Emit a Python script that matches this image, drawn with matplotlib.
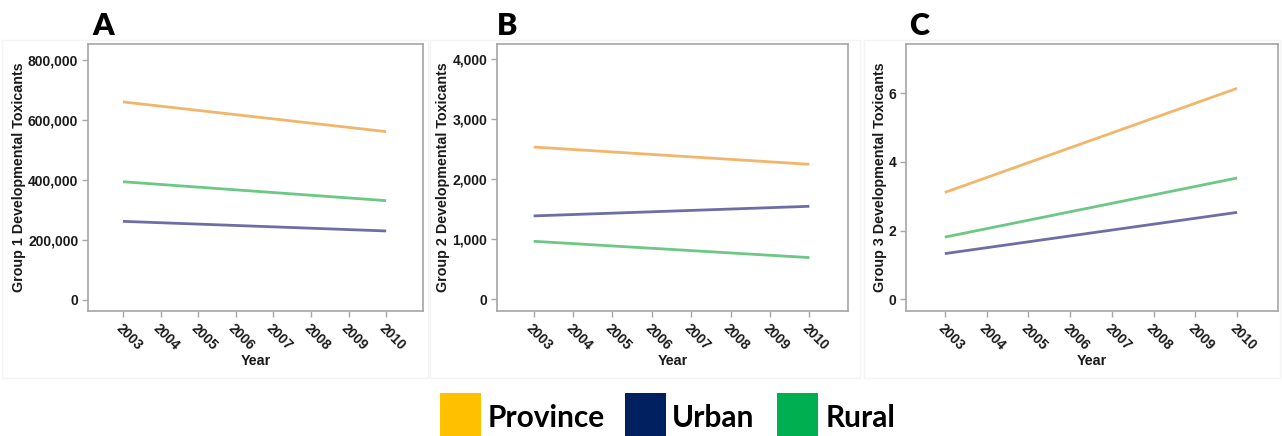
import matplotlib
matplotlib.use("Agg")
import matplotlib.pyplot as plt
from matplotlib.patches import Rectangle
from matplotlib.ticker import FuncFormatter

# Trend lines per region, start (2003) and end (2010) values
years = [2003, 2010]
all_years = list(range(2003, 2011))
series_names = ["Province", "Urban", "Rural"]

group1_province = [660000, 561000]
group1_urban = [262000, 230000]
group1_rural = [394000, 331000]

group2_province = [2538, 2250]
group2_urban = [1390, 1550]
group2_rural = [967, 695]

group3_province = [3.11, 6.14]
group3_urban = [1.33, 2.53]
group3_rural = [1.81, 3.53]

line_colors = {"Province": "#F2B66B", "Urban": "#6E6EA6", "Rural": "#6CC884"}
legend_colors = {"Province": "#FFC000", "Urban": "#002060", "Rural": "#00B050"}

W, H = 1282, 436
fig = plt.figure(figsize=(W / 100, H / 100), dpi=100)
fig.patch.set_facecolor("white")

plt.rcParams["font.family"] = ["Liberation Sans", "DejaVu Sans"]
TICK_FS = 10
LABEL_FS = 10.3


def px_axes(left, right, top, bottom):
    return fig.add_axes([left / W, (H - bottom) / H, (right - left) / W, (bottom - top) / H])


panels = [
    dict(box=(88, 423, 44, 311), letter="A", letter_x=92, ylab_x=19,
         ylabel="Group 1 Developmental Toxicants",
         data=[group1_province, group1_urban, group1_rural],
         ylim=(-36700, 853000), yticks=[0, 200000, 400000, 600000, 800000]),
    dict(box=(497, 848, 44, 311), letter="B", letter_x=497, ylab_x=443,
         ylabel="Group 2 Developmental Toxicants",
         data=[group2_province, group2_urban, group2_rural],
         ylim=(-195, 4255), yticks=[0, 1000, 2000, 3000, 4000]),
    dict(box=(906, 1278, 44, 311), letter="C", letter_x=909, ylab_x=880,
         ylabel="Group 3 Developmental Toxicants",
         data=[group3_province, group3_urban, group3_rural],
         ylim=(-0.34, 7.43), yticks=[0, 2, 4, 6]),
]

# faint panel frames
for x0, x1 in [(2, 428), (430, 860), (864, 1280)]:
    fig.patches.append(Rectangle((x0 / W, (H - 378) / H), (x1 - x0) / W, (378 - 40) / H,
                                 transform=fig.transFigure, fill=False,
                                 edgecolor="#F4F4F4", linewidth=1.0))

for p in panels:
    left, right, top, bottom = p["box"]
    ax = px_axes(left, right, top, bottom)
    for name, vals in zip(series_names, p["data"]):
        ax.plot(years, vals, color=line_colors[name], linewidth=2.0,
                solid_capstyle="butt")
    ax.set_xlim(2002.07, 2010.98)
    ax.set_ylim(*p["ylim"])
    ax.set_xticks(all_years)
    ax.set_xticklabels([str(y) for y in all_years], rotation=-45,
                       ha="left", va="top", rotation_mode="anchor",
                       fontsize=TICK_FS, fontweight="bold")
    ax.set_yticks(p["yticks"])
    ax.yaxis.set_major_formatter(FuncFormatter(lambda v, pos: f"{int(round(v)):,}"))
    for lbl in ax.get_yticklabels():
        lbl.set_fontsize(TICK_FS)
        lbl.set_fontweight("bold")
    for s in ax.spines.values():
        s.set_color("#A6A6A6")
        s.set_linewidth(1.2)
    ax.tick_params(axis="both", colors="#A6A6A6", labelcolor="#1A1A1A",
                   length=4, width=1.0, pad=3)
    ax.set_xlabel("Year", fontsize=LABEL_FS, fontweight="bold", color="#1A1A1A")
    ax.xaxis.set_label_coords(0.5, -(361 - bottom) / (bottom - top))
    ax.set_ylabel(p["ylabel"], fontsize=LABEL_FS, fontweight="bold", color="#1A1A1A")
    ax.yaxis.set_label_coords((p["ylab_x"] - left) / (right - left), 0.5)
    ax.yaxis.label.set_va("center")
    ax.xaxis.label.set_va("center")
    fig.text(p["letter_x"] / W, (H - 35) / H, p["letter"], fontsize=22,
             fontweight="heavy", family=["Lato", "DejaVu Sans"],
             ha="left", va="baseline", color="black")

# legend along the bottom
legend_items = [("Province", 440, 488), ("Urban", 625, 672), ("Rural", 777, 826)]
for name, sx, tx in legend_items:
    fig.patches.append(Rectangle((sx / W, 0), 41 / W, (H - 393) / H,
                                 transform=fig.transFigure,
                                 facecolor=legend_colors[name], edgecolor="none"))
    fig.text(tx / W, (H - 427) / H, name, fontsize=21.5, fontweight="bold",
             family=["Lato", "DejaVu Sans"], ha="left", va="baseline", color="black")

fig.savefig("out.png", dpi=100, facecolor="white")
